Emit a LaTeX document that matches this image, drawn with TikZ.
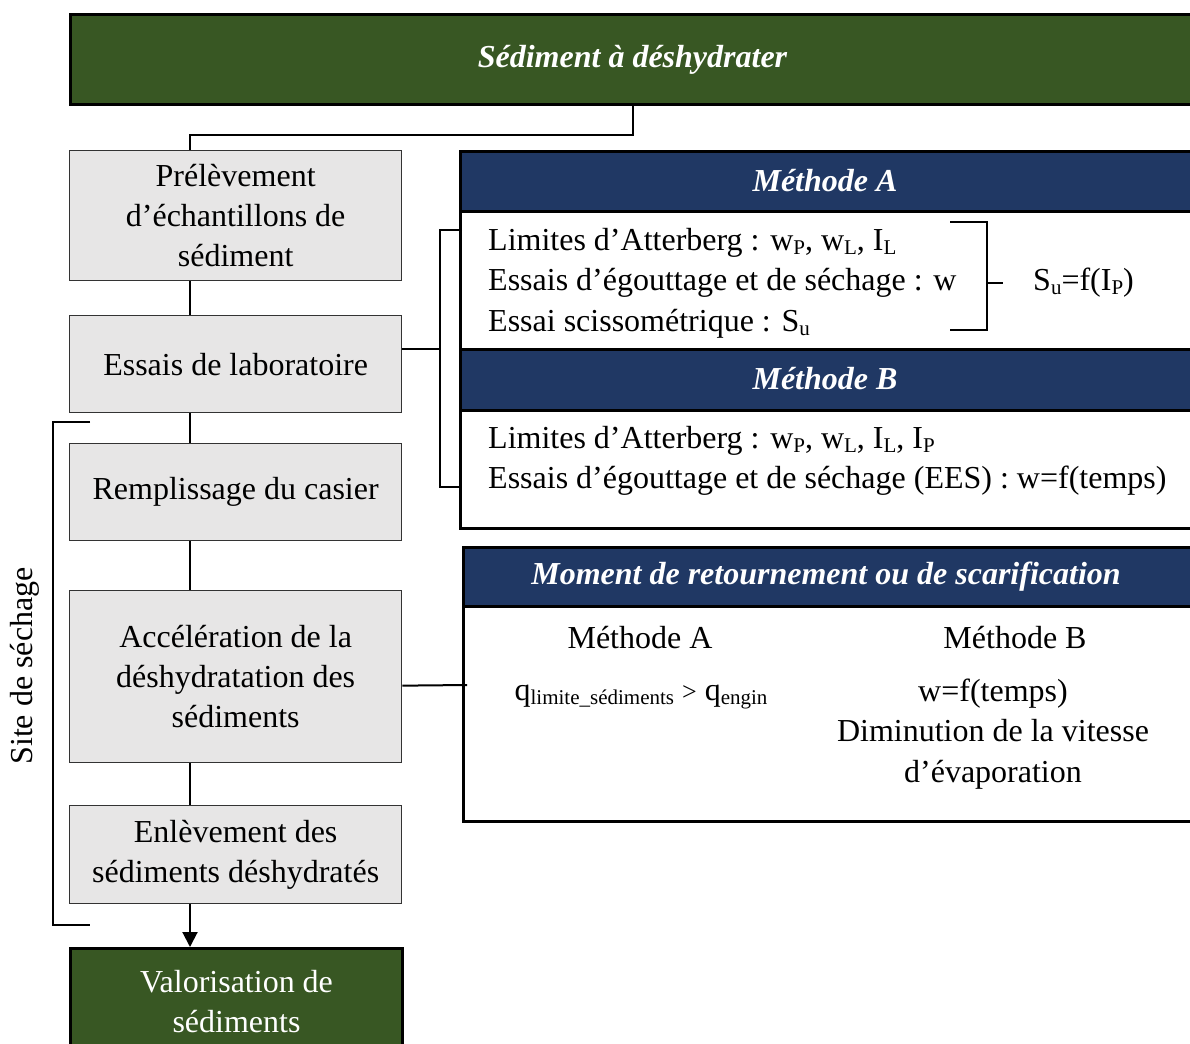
\documentclass[tikz,border=0pt]{standalone}
\usepackage{fontspec}
\setmainfont{Liberation Serif}
\usetikzlibrary{
    arrows.meta,
    positioning
}
\definecolor{sedgreen}{HTML}{385723}
\definecolor{sednavy}{HTML}{203864}
\definecolor{stepgray}{HTML}{E7E6E6}
\newcommand{\lowtxt}[1]{\raisebox{-0.12em}{\fontsize{21}{21}\selectfont #1}}

\tikzset{
    stepbox/.style={draw=black!80, line width=1.3pt, fill=stepgray,
        minimum width=332pt, anchor=north west, align=center, inner sep=0pt,
        font=\fontsize{32}{40}\selectfont},
    greenbox/.style={draw=black, line width=3pt, fill=sedgreen, text=white,
        minimum width=332pt, anchor=north west, align=center, inner sep=0pt,
        font=\fontsize{32}{40}\selectfont},
    headbox/.style={draw=black, line width=3pt, fill=sednavy, text=white,
        anchor=north west, inner sep=0pt},
    headtxt/.style={text=white, inner sep=0pt,
        font=\fontsize{32}{40}\selectfont\bfseries\itshape},
    bodybox/.style={draw=black, line width=2.5pt, fill=white,
        anchor=north west, inner sep=0pt},
    listtxt/.style={align=left, inner sep=0pt, font=\fontsize{32}{40.5}\selectfont},
    midtxt/.style={align=center, inner sep=0pt, font=\fontsize{32}{40.5}\selectfont},
    link/.style={line width=2pt}
}

\begin{document}
\begin{tikzpicture}[x=1pt,y=-1pt]

\useasboundingbox (0,0) rectangle (1190,1043);

% top of the chain
\node[greenbox, minimum width=1124pt, minimum height=90pt,
      font=\fontsize{32}{40}\selectfont\bfseries\itshape] (sed) at (69,13)
      {Sédiment à déshydrater};

% steps on the left
\node[stepbox, minimum height=130pt] (prel) at (69,150)
      {Prélèvement\\d’échantillons de\\sédiment};
\node[stepbox, minimum height=97pt] (labo) at (69,315)
      {Essais de laboratoire};
\node[stepbox, minimum height=97pt] (remp) at (69,443)
      {Remplissage du casier};
\node[stepbox, minimum height=172pt] (accel) at (69,590)
      {Accélération de la\\déshydratation des\\sédiments};
\node[stepbox, minimum height=98pt] (enlev) at (69,805)
      {Enlèvement des\\sédiments déshydratés};
\node[greenbox, minimum height=106pt] (valo) at (69,947)
      {Valorisation de\\sédiments};

% chain
\coordinate (chain) at (190,0);
\draw[link] (sed.south) -- ++(0,29) -| (prel.north -| chain);
\draw[link] (prel.south -| chain) -- (labo.north -| chain);
\draw[link] (labo.south -| chain) -- (remp.north -| chain);
\draw[link] (remp.south -| chain) -- (accel.north -| chain);
\draw[link] (accel.south -| chain) -- (enlev.north -| chain);
\draw[link,-{Triangle[length=15pt,width=15pt]}] (enlev.south -| chain) -- (valo.north -| chain);

% drying site
\draw[link] (90,422) -- (53,422) -- (53,925) -- (90,925);
\node[rotate=90, inner sep=0pt, font=\fontsize{32}{36}\selectfont] (site) at (25,666)
      {Site de séchage};

% methods A and B
\node[headbox, minimum width=734pt, minimum height=60pt] (hA) at (459,150) {};
\node[headtxt] (tA) at (825,181) {Méthode A};
\node[bodybox, minimum width=734pt, minimum height=138pt] (bA) at (459,210) {};
\node[headbox, minimum width=734pt, minimum height=61pt] (hB) at (459,348) {};
\node[headtxt] (tB) at (825,379) {Méthode B};
\node[bodybox, minimum width=734pt, minimum height=118pt] (bB) at (459,409) {};

\node[listtxt, anchor=west] (listA) at (488,283)
      {Limites d’Atterberg : w\lowtxt{P}, w\lowtxt{L}, I\lowtxt{L}\\
       Essais d’égouttage et de séchage : w\\
       Essai scissométrique : S\lowtxt{u}};
\node[listtxt, anchor=west] (listB) at (488,461)
      {Limites d’Atterberg : w\lowtxt{P}, w\lowtxt{L}, I\lowtxt{L}, I\lowtxt{P}\\
       Essais d’égouttage et de séchage (EES) : w=f(temps)};

\coordinate (brA) at (987,283);
\draw[link] (950,222) -- (987,222) -- (987,330) -- (950,330);
\node[listtxt, anchor=west] (su) at (1033,283) {S\lowtxt{u}=f(I\lowtxt{P})};
\draw[link] (brA) -- ++(16,0);

\coordinate (forkT) at (462,230);
\coordinate (forkB) at (462,487);
\draw[link] ([yshift=15pt]labo.east) -- ++(38,0);
\draw[link] (forkT) -- (440,230) -- (440,487) -- (forkB);

% turning moment
\node[headbox, minimum width=731pt, minimum height=59pt] (hM) at (462,546) {};
\node[headtxt] (tM) at (826,577) {Moment de retournement ou de scarification};
\node[bodybox, minimum width=731pt, minimum height=215pt] (bM) at (462,605) {};

\node[midtxt] (mA) at (640,638) {Méthode A};
\node[midtxt] (mB) at (1015,638) {Méthode B};
\node[midtxt] (qA) at (641,697)
      {q\lowtxt{limite\_sédiments} {\fontsize{26}{26}\selectfont >} q\lowtxt{engin}};
\node[midtxt] (wB) at (993,734)
      {w=f(temps)\\Diminution de la vitesse\\d’évaporation};

\coordinate (mIn) at (467,685);
\draw[link] ([yshift=-9pt]accel.east) -- (mIn);

\end{tikzpicture}
\end{document}
